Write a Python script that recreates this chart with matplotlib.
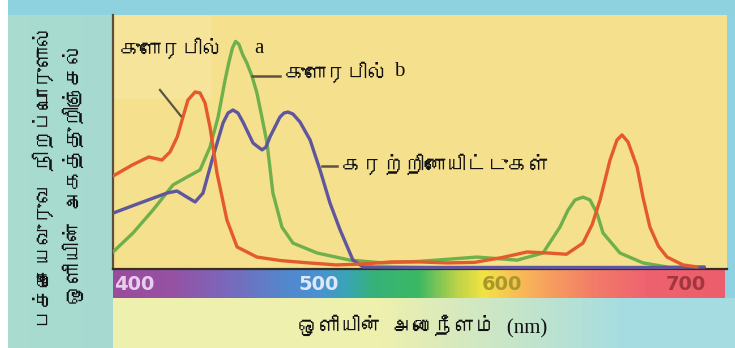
import numpy as np
import matplotlib
matplotlib.use('Agg')
import matplotlib.pyplot as plt
from matplotlib import font_manager
from matplotlib.ft2font import FT2Font
from matplotlib.colors import LinearSegmentedColormap, to_rgb
from matplotlib.patches import Rectangle

# ---------------- data ----------------
wl_chl_a = [388.6, 398.9, 408.0, 415.2, 419.6, 423.5, 426.6, 429.3, 433.2, 435.9, 438.6, 441.3,
            445.1, 450.5, 456.0, 466.8, 480.0, 495.0, 510.0, 525.0, 540.0, 555.0, 570.0,
            585.0, 600.0, 613.6, 625.0, 635.0, 644.0, 649.0, 653.3, 658.7, 662.5, 665.2,
            668.5, 673.4, 676.6, 680.4, 685.0, 689.7, 698.4, 706.0]
abs_chl_a = [36.6, 40.9, 44.1, 42.9, 46.1, 52.0, 59.8, 66.5, 69.7, 69.3, 65.4, 55.9,
             37.8, 19.3, 8.7, 4.7, 3.3, 2.4, 1.6, 2.0, 2.8, 2.8, 2.4,
             2.6, 4.5, 6.7, 6.3, 5.8, 10.2, 17.5, 27.2, 42.9, 50.8, 52.8,
             50.0, 40.2, 28.3, 16.5, 9.0, 4.7, 1.6, 0.8]

wl_chl_b = [388.6, 399.5, 410.3, 421.2, 428.8, 435.9, 441.3, 445.7, 449.5, 451.6, 453.5, 455.2,
            457.0, 459.0, 461.4, 464.1, 466.8, 469.5, 472.3, 475.5, 480.4, 486.4, 499.5,
            517.4, 535.3, 555.0, 571.7, 586.4, 608.2, 622.3, 631.5, 635.9, 639.7, 644.0,
            647.8, 651.6, 654.9, 664.1, 676.6, 689.7]
abs_chl_b = [6.7, 14.2, 23.2, 33.1, 36.2, 39.0, 48.0, 59.8, 74.4, 81.5, 87.0, 89.6,
             88.5, 84.5, 81.0, 76.0, 69.3, 59.8, 49.6, 29.9, 16.5, 10.2, 6.3,
             3.5, 2.4, 3.0, 3.9, 4.7, 3.5, 6.3, 16.5, 23.2, 27.2, 28.3,
             27.2, 22.0, 14.2, 6.3, 2.4, 0.8]

wl_carot = [388.6, 403.3, 417.9, 423.4, 428.8, 433.2, 437.5, 442.9, 448.4, 451.1, 453.8, 456.5,
            459.2, 464.7, 466.8, 469.6, 471.7, 473.9, 479.3, 481.5, 483.7, 486.4, 490.2,
            495.7, 501.1, 506.5, 512.0, 519.0, 524.5, 560.0, 620.0, 680.0, 710.0]
abs_carot = [22.0, 26.0, 29.9, 30.7, 28.3, 26.4, 29.9, 44.1, 57.5, 61.4, 62.6, 61.4,
             57.9, 49.6, 48.4, 46.9, 48.0, 52.0, 59.8, 61.4, 61.8, 61.0, 57.9,
             50.8, 39.0, 26.0, 15.4, 3.5, 0.8, 0.6, 0.6, 0.6, 0.8]

tick_values = [400, 500, 600, 700]
tick_labels = ['400', '500', '600', '700']
tick_colors = ['#e8cdee', '#dde9f8', '#a8982c', '#a2363e']

label_chl = 'குளோரபில்'
label_a = 'a'
label_b = 'b'
label_carot = 'கரற்றினோயிட்டுகள்'
xlabel_text = 'ஒளியின்  அலைநீளம்  (nm)'
ylabel_line1 = 'பச்சையவுருவ  நிறப்பொருளால்'
ylabel_line2 = 'ஒளியின்  அகத்துறிஞ்சல்'

# spectrum colour stops (nm, colour)
spec_nm = [388.6, 420, 450, 480, 500, 515, 530, 555, 575, 590, 605, 625, 650, 680, 722]
spec_col = ['#9a4c9c', '#9652a4', '#7a68bb', '#5586cc', '#4a92d2', '#3aa4b8', '#36b27a',
            '#3cb863', '#b8d24a', '#f2e443', '#f8c454', '#f7a15e', '#f27c68', '#ee6270', '#ec5e6c']

# ---------------- fonts ----------------
def find_tamil():
    for f in font_manager.fontManager.ttflist:
        try:
            if 0x0B95 in FT2Font(f.fname).get_charmap():
                return f.name
        except Exception:
            pass
    return None

tamil = find_tamil()
tam_fam = ['Liberation Serif'] + ([tamil] if tamil else []) + ['DejaVu Sans']

# ---------------- figure ----------------
W, H = 735, 348
fig = plt.figure(figsize=(W / 100, H / 100), dpi=100)

# background gradient
xx, yy = np.meshgrid(np.arange(W), np.arange(H))
mint = np.array(to_rgb('#aadccf'))
blue = np.array(to_rgb('#8fd2e2'))
yel = np.array(to_rgb('#eef0ae'))
cyan = np.array(to_rgb('#a4dce2'))
t = (xx / W)[..., None]
img = mint * (1 - t) + blue * t
top = (yy < 15)[..., None]
img = np.where(top, np.array(to_rgb('#8fd3df')), img)
tb = np.clip((xx - 380) / 250, 0, 1)[..., None]
lower = yel * (1 - tb) + cyan * tb
mask_low = ((xx >= 113) & (yy >= 298))[..., None]
img = np.where(mask_low, lower, img)
img = np.where((xx < 8)[..., None], np.array([1.0, 1.0, 1.0]), img)
bg = fig.add_axes([0, 0, 1, 1], zorder=0)
bg.imshow(img, extent=[0, 1, 0, 1], aspect='auto', interpolation='bilinear')
bg.axis('off')

# main axes: panel x 113..727 px, y 15..269 px
px_per_nm = 1.84
x0_nm = 400 + (113 - 134) / px_per_nm
x1_nm = 400 + (727 - 134) / px_per_nm
ax = fig.add_axes([113 / W, (H - 269) / H, (727 - 113) / W, (269 - 15) / H], zorder=2)
ax.set_facecolor('#f5e08e')
ax.set_xlim(x0_nm, x1_nm)
ax.set_ylim(0, 100)
ax.add_patch(Rectangle((0, 0.67), 0.16, 0.33, transform=ax.transAxes,
                       facecolor='#faedb6', alpha=0.35, edgecolor='none', zorder=0))
for s in ['top', 'right']:
    ax.spines[s].set_visible(False)
ax.spines['left'].set_color('#5a4e3c')
ax.spines['left'].set_linewidth(1.6)
ax.spines['bottom'].set_color('#3a2e22')
ax.spines['bottom'].set_linewidth(1.6)
ax.set_xticks([])
ax.set_yticks([])

lw = 2.4
kw = dict(lw=lw, solid_joinstyle='round', solid_capstyle='round')
ax.plot(wl_chl_b, abs_chl_b, color='#6fb04a', zorder=3, **kw)
ax.plot(wl_carot, abs_carot, color='#60569e', zorder=4, **kw)
ax.plot(wl_chl_a, abs_chl_a, color='#e55a2b', zorder=5, **kw)

# pointer lines and labels
pc = '#5e5444'
ax.plot([414.1, 425.5], [70.5, 60.2], color=pc, lw=1.6, zorder=6)
ax.plot([464.1, 479.3], [76.0, 76.0], color=pc, lw=1.8, zorder=6)
ax.plot([502.2, 510.3], [40.6, 40.6], color=pc, lw=1.8, zorder=6)
fs = 15
tk = dict(fontsize=fs, va='center', color='#111111', zorder=7)
ax.text(392.4, 86.2, label_chl, family=tam_fam, ha='left', **tk)
ax.text(467.9, 87.0, label_a, family='Liberation Serif', ha='center', **tk)
ax.text(482.1, 76.8, label_chl, family=tam_fam, ha='left', **tk)
ax.text(544.0, 77.6, label_b, family='Liberation Serif', ha='center', **tk)
ax.text(513.0, 40.6, label_carot, family=tam_fam, ha='left', **tk)

# spectrum bar: x 113..725 px, y 270..298 px
sx = fig.add_axes([113 / W, (H - 298) / H, (725 - 113) / W, (298 - 270) / H], zorder=1)
s_x1 = x0_nm + (725 - 113) / px_per_nm
pos = [(v - spec_nm[0]) / (spec_nm[-1] - spec_nm[0]) for v in spec_nm]
cmap = LinearSegmentedColormap.from_list('spec', list(zip(pos, spec_col)))
grad = np.linspace(0, 1, 600)[None, :]
sx.imshow(grad, cmap=cmap, extent=[spec_nm[0], spec_nm[-1], 0, 1], aspect='auto', interpolation='bilinear')
sx.set_xlim(x0_nm, s_x1)
sx.set_ylim(0, 1)
sx.axis('off')
for v, lab, c in zip(tick_values, tick_labels, tick_colors):
    sx.text(v + 0.2, 0.47, lab, ha='center', va='center', fontsize=14, fontweight='bold',
            family='DejaVu Sans', color=c)

# axis labels
fig.text(423 / W, 1 - 326 / H, xlabel_text, family=tam_fam, fontsize=15, ha='center', va='center', color='#111111')
fig.text(45 / W, 1 - 177 / H, ylabel_line1, family=tam_fam, fontsize=15, rotation=90, ha='center', va='center', color='#111111')
fig.text(75 / W, 1 - 173 / H, ylabel_line2, family=tam_fam, fontsize=15, rotation=90, ha='center', va='center', color='#111111')

fig.savefig('out.png', dpi=100)
